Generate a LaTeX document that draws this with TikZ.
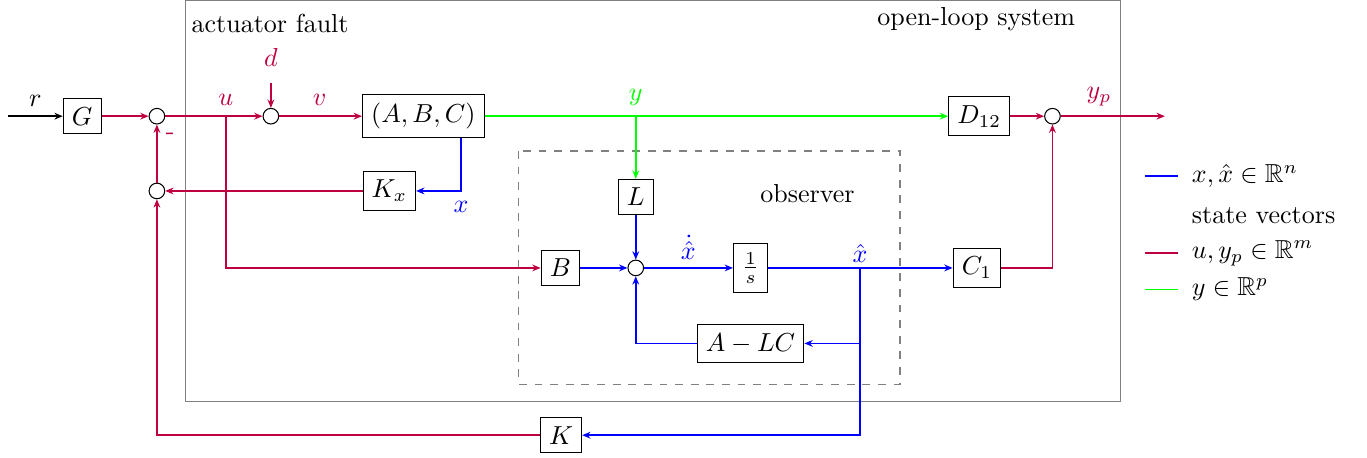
\documentclass[tikz,border=0pt]{standalone}
\usepackage{amsmath, amssymb}
\usepackage{tikz}
\usetikzlibrary{positioning, arrows.meta, calc}

\begin{document}
\begin{tikzpicture}[
    block/.style={draw, fill=white, inner sep=0.3333em},
    sumpt/.style={draw, circle, fill=white, inner sep=0pt, minimum size=6pt},
    sig/.style={line width=0.6pt, -{Stealth[length=3.2pt, width=2.6pt]}},
    legline/.style={line width=0.6pt}
]
    \useasboundingbox (0,0) rectangle (18.47,-6.18);

    % Frames: open-loop system and observer
    \draw[gray] (2.50,-0.01) rectangle (15.14,-5.43);
    \node (olslab) at (13.19,-0.26) {open-loop system};
    \node (aflab) at (3.65,-0.32) {actuator fault};
    \draw[gray, dashed] (7.00,-2.04) rectangle (12.16,-5.19);
    \node (obslab) at (10.91,-2.62) {observer};

    % Blocks
    \node[block] (G) at (1.11,-1.57) {$G$};
    \node[block] (ABC) at (5.72,-1.57) {$(A,B,C)$};
    \node[block] (Kx) at (5.26,-2.58) {$K_x$};
    \node[block] (D12) at (13.23,-1.57) {$D_{12}$};
    \node[block] (L) at (8.59,-2.66) {$L$};
    \node[block] (B) at (7.57,-3.62) {$B$};
    \node[block] (integ) at (10.14,-3.62) {$\frac{1}{s}$};
    \node[block] (C1) at (13.20,-3.62) {$C_1$};
    \node[block] (ALC) at (10.14,-4.64) {$A-LC$};
    \node[block] (K) at (7.58,-5.88) {$K$};

    % Summing points
    \node[sumpt] (sumr) at (2.12,-1.57) {};
    \node[sumpt] (sumk) at (2.12,-2.58) {};
    \node[sumpt] (sumd) at (3.66,-1.57) {};
    \node[sumpt] (sumo) at (8.59,-3.62) {};
    \node[sumpt] (sumy) at (14.22,-1.57) {};

    % Free ends and branch points
    \coordinate (rin) at (0.11,-1.57);
    \coordinate (din) at (3.66,-1.12);
    \coordinate (ybr) at (8.59,-1.57);
    \coordinate (ubr) at (3.05,-1.57);
    \coordinate (xout) at (6.23,-2.58);
    \coordinate (xbr) at (11.62,-3.62);
    \coordinate (ypout) at (15.74,-1.57);

    % Signals
    \draw[sig] (rin) -- (G) node[midway, above] (rlab) {$r$};
    \draw[sig, purple] (G) -- (sumr);
    \draw[sig, purple] (sumr) -- (sumd);
    \node[purple] (ulab) at (3.05,-1.35) {$u$};
    \draw[sig, purple] (din) -- (sumd);
    \node[purple] (dlab) at (3.66,-0.77) {$d$};
    \draw[sig, purple] (sumd) -- (ABC);
    \node[purple] (vlab) at (4.32,-1.35) {$v$};
    \draw[sig, green] (ABC) -- (D12);
    \node[green] (ylab) at (8.59,-1.31) {$y$};
    \draw[sig, green] (ybr) -- (L);
    \draw[sig, purple] (D12) -- (sumy);
    \draw[sig, purple] (sumy) -- (ypout);
    \node[purple] (yplab) at (14.85,-1.31) {$y_p$};

    % State feedback
    \draw[sig, blue] (ABC.south -| xout) -- (xout) -- (Kx);
    \node[blue] (xlab) at (6.23,-2.80) {$x$};
    \draw[sig, purple] (Kx) -- (sumk);
    \draw[sig, purple] (sumk) -- (sumr);
    \node[purple] (minus) at (2.30,-1.84) {-};

    % Observer loop
    \draw[sig, purple] (ubr) |- (B);
    \draw[sig, blue] (B) -- (sumo);
    \draw[sig, blue] (L) -- (sumo);
    \draw[sig, blue] (sumo) -- (integ);
    \node[blue] (xdlab) at (9.30,-3.34) {$\dot{\hat{x}}$};
    \draw[sig, blue] (integ) -- (C1);
    \node[blue] (xhlab) at (11.62,-3.42) {$\hat{x}$};
    \draw[sig, blue] (xbr |- ALC) -- (ALC);
    \draw[sig, blue] (ALC) -| (sumo);
    \draw[sig, purple] (C1) -| (sumy);
    \draw[sig, blue] (xbr) |- (K);
    \draw[sig, purple] (K) -| (sumk);

    % Legend
    \draw[legline, blue] (15.47,-2.38) -- (15.92,-2.38);
    \node[right] (leg1) at (15.98,-2.38) {$x,\hat{x}\in\mathbb{R}^n$};
    \node[right] (leg2) at (15.98,-2.91) {state vectors};
    \draw[legline, purple] (15.47,-3.42) -- (15.92,-3.42);
    \node[right] (leg3) at (15.98,-3.42) {$u,y_p\in\mathbb{R}^m$};
    \draw[legline, green] (15.47,-3.91) -- (15.92,-3.91);
    \node[right] (leg4) at (15.98,-3.91) {$y\in\mathbb{R}^p$};
\end{tikzpicture}
\end{document}
